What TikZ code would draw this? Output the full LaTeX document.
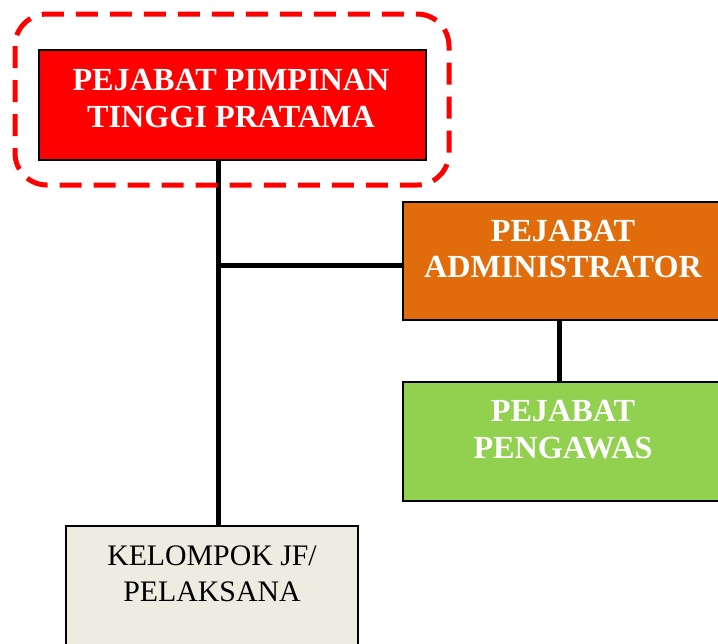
\documentclass[tikz,border=0pt]{standalone}
\usepackage{fontspec}
\setmainfont{Liberation Serif}
\begin{document}
\begin{tikzpicture}[x=1pt,y=-1pt,
  box/.style={draw=black,line width=1.8pt,rectangle,inner sep=0pt,anchor=north west},
  wtitle/.style={text=white,font=\fontsize{32.2}{37}\selectfont\bfseries,anchor=base,inner sep=0pt},
  btitle/.style={text=black,font=\fontsize{29.8}{37}\selectfont,anchor=base,inner sep=0pt},
  link/.style={line width=5pt,draw=black},
  focus/.style={draw=red,line width=5pt,dash pattern=on 22pt off 12pt,rounded corners=32pt}]
\definecolor{ptorange}{HTML}{E06C0B}
\definecolor{ptgreen}{HTML}{92D050}
\definecolor{ptcream}{HTML}{EEECE1}
\useasboundingbox (0,0) rectangle (718,643);
\clip (0,0) rectangle (718,643);

% boxes
\node[box,fill=red,minimum width=387pt,minimum height=110pt] (pimpinan) at (38,49) {};
\node[box,fill=ptorange,minimum width=318pt,minimum height=118pt] (admin) at (402,201) {};
\node[box,fill=ptgreen,minimum width=318pt,minimum height=119pt] (pengawas) at (402,381) {};
\node[box,fill=ptcream,minimum width=292pt,minimum height=140pt] (kelompok) at (65,525) {};

% texts
\node[wtitle] at (231,90) {PEJABAT PIMPINAN};
\node[wtitle] at (231,127) {TINGGI PRATAMA};
\node[wtitle] at (563,241.5) {PEJABAT};
\node[wtitle] at (563,277) {ADMINISTRATOR};
\node[wtitle] at (563,421.5) {PEJABAT};
\node[wtitle] at (563,458) {PENGAWAS};
\node[btitle] at (212,565) {KELOMPOK JF/};
\node[btitle] at (212,601.5) {PELAKSANA};

% connectors
\coordinate (spine) at (218,265);
\draw[link] (spine |- pimpinan.south) -- (spine |- kelompok.north);
\draw[link] (spine) -- (spine -| admin.west);
\draw[link] (admin.south -| 559,0) -- (pengawas.north -| 559,0);

% highlight around the top box
\draw[focus] (15,14) rectangle (449,185);
\end{tikzpicture}
\end{document}
